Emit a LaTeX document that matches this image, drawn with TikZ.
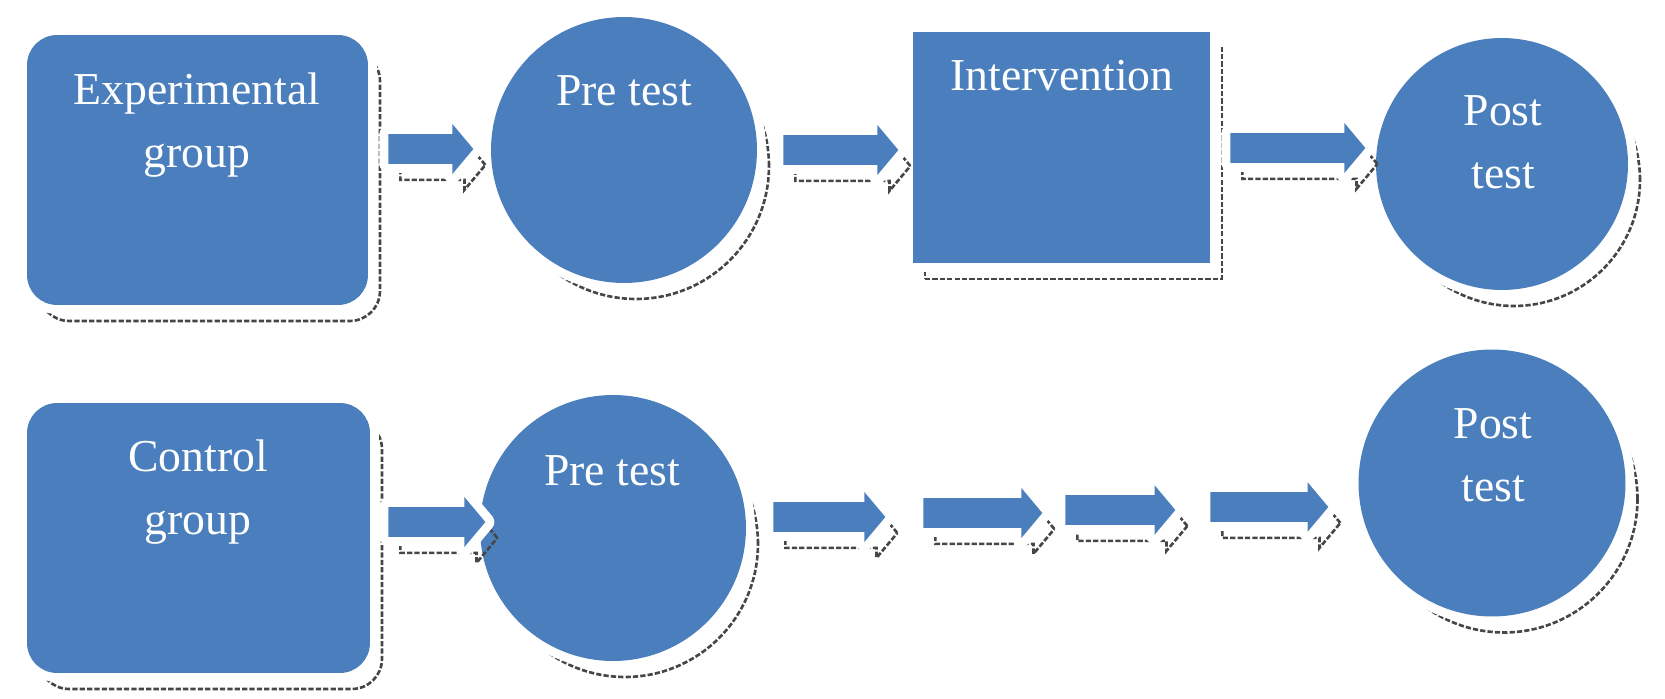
\documentclass[tikz,border=0pt]{standalone}
\usepackage{fontspec}
\setmainfont{Liberation Serif}
\usetikzlibrary{shapes.arrows}
\definecolor{boxblue}{RGB}{74,126,189}
\definecolor{rimgray}{RGB}{70,70,70}
\tikzset{
	rim/.style={fill=boxblue,
		preaction={draw=rimgray, line width=1.5pt, dash pattern=on 3pt off 1.2pt,
			transform canvas={shift={(0.24cm,-0.32cm)}}},
		preaction={draw=white, line width=0.36cm, line join=round}},
	grpbox/.style={rim, rectangle, rounded corners=0.6cm, inner sep=0pt},
	testdisc/.style={rim, circle, inner sep=0pt},
	treatbox/.style={rim, rectangle, inner sep=0pt},
	flow/.style={rim, single arrow, inner sep=0.29cm, single arrow head extend=0.2cm,
		single arrow tip angle=100, minimum width=0pt, anchor=tail},
	lbl/.style={text=white, align=center, font=\fontsize{26}{36}\selectfont}
}
\begin{document}
\begin{tikzpicture}[x=0.02cm, y=-0.02cm]
	\useasboundingbox (0,0) rectangle (1665,699);

	% Experimental group
	\node[grpbox, minimum width=6.82cm, minimum height=5.4cm] (expgrp) at (197.5,170) {};
	\node[lbl] (expgrptxt) at (197,125) {Experimental\\group};
	\node[testdisc, minimum size=5.32cm] (exppre) at (624,150) {};
	\node[lbl] (exppretxt) at (624,91) {Pre test};
	\node[treatbox, minimum width=5.94cm, minimum height=4.62cm] (expint) at (1061.5,147.5) {};
	\node[lbl] (expinttxt) at (1062,76) {Intervention};
	\node[testdisc, minimum size=5.04cm] (exppost) at (1502,164) {};
	\node[lbl] (expposttxt) at (1503,142) {Post\\test};
	\node[flow, minimum height=1.7cm] (exparra) at (388,149) {};
	\node[flow, minimum height=2.3cm] (exparrb) at (783,150) {};
	\node[flow, minimum height=2.7cm] (exparrc) at (1230,148) {};

	% Control group
	\node[grpbox, minimum width=6.86cm, minimum height=5.4cm] (ctlgrp) at (198.5,538) {};
	\node[lbl] (ctlgrptxt) at (198,492) {Control\\group};
	\node[testdisc, minimum size=5.32cm] (ctlpre) at (613,528) {};
	\node[lbl] (ctlpretxt) at (612,471) {Pre test};
	\node[testdisc, minimum size=5.34cm] (ctlpost) at (1492,483) {};
	\node[lbl] (ctlposttxt) at (1493,455) {Post\\test};
	\node[flow, minimum height=1.94cm] (ctlarra) at (388,522) {};
	\node[flow, minimum height=2.24cm] (ctlarrb) at (773,517) {};
	\node[flow, minimum height=2.38cm] (ctlarrc) at (923,513) {};
	\node[flow, minimum height=2.2cm] (ctlarrd) at (1065,510) {};
	\node[flow, minimum height=2.36cm] (ctlarre) at (1210,507) {};
\end{tikzpicture}
\end{document}
